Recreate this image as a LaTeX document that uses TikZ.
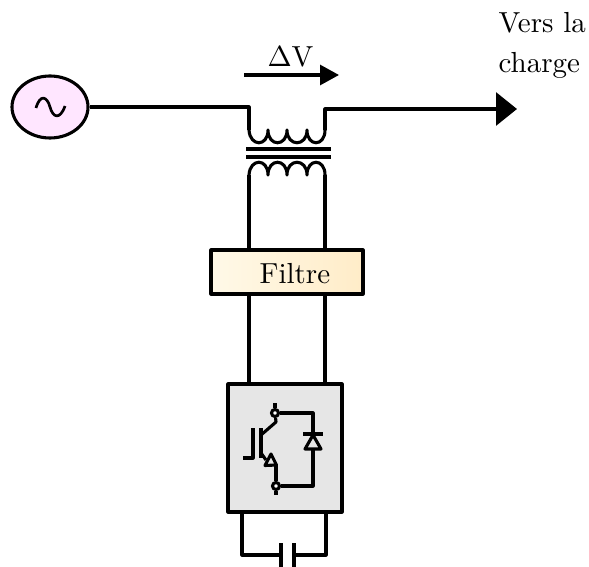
\documentclass[tikz,border=0pt]{standalone}
\usetikzlibrary{arrows.meta,shapes.geometric}
\tikzset{
  x=1pt,y=-1pt,
  wire/.style={line width=3.1pt,line join=round},
  slimwire/.style={line width=3.1pt,line join=round},
  curlwire/.style={line width=2.7pt,line join=round},
  lbl/.style={inner sep=0pt,anchor=base west,scale=2.9},
  bigarrow/.style={wire,-{Triangle[length=21pt,width=33pt]}},
  midarrow/.style={wire,-{Triangle[length=19pt,width=20pt]}},
  pin/.style={circle,draw,line width=3.1pt,fill=white,minimum size=7pt,inner sep=0pt},
}
\definecolor{srcpink}{RGB}{255,230,255}
\definecolor{filtL}{RGB}{255,249,232}
\definecolor{filtR}{RGB}{255,236,200}
\definecolor{convgrey}{RGB}{230,230,230}
\begin{document}
\begin{tikzpicture}
\useasboundingbox (0,0) rectangle (589,567);
% source
\node[ellipse,draw,line width=3.1pt,fill=srcpink,minimum width=76pt,minimum height=62pt,inner sep=0pt] (source) at (50,107) {};
\draw[curlwire] (36,108) .. controls (40,94) and (47,96) .. (50,107) .. controls (53,118) and (60,120) .. (65,106);
% filter & converter
\node[draw,wire,left color=filtL,right color=filtR,minimum width=152pt,minimum height=44pt,inner sep=0pt] (filter) at (287,272) {};
\node[lbl] (filtertext) at (259,283) {Filtre};
\node[draw,wire,fill=convgrey,minimum width=114pt,minimum height=128pt,inner sep=0pt] (conv) at (285,448) {};
% coordinates of the wires
\coordinate (pl) at (249,107);
\coordinate (ul) at (249,130);
\coordinate (ur) at (325,130);
\coordinate (pr) at (325,109);
\coordinate (load) at (517,109);
\coordinate (ll) at (249,175);
\coordinate (lr) at (325,175);
\coordinate (fl) at (249,250);
\coordinate (fr) at (325,250);
\coordinate (fbl) at (249,294);
\coordinate (fbr) at (325,294);
\coordinate (cl) at (249,384);
\coordinate (cr) at (325,384);
% primary
\draw[wire] (source.east) -- (pl) -- (ul);
\draw[wire] (ul) .. controls (250,147) and (268,147) .. (268,130)
  .. controls (268,147) and (287,147) .. (287,130)
  .. controls (287,147) and (307,147) .. (307,130)
  .. controls (307,147) and (325,147) .. (ur);
\draw[bigarrow] (ur) -- (pr) -- (load);
% core
\coordinate (c1a) at (246,149); \coordinate (c1b) at (331,149);
\coordinate (c2a) at (246,157); \coordinate (c2b) at (331,157);
\draw[slimwire] (c1a) -- (c1b);
\draw[slimwire] (c2a) -- (c2b);
% secondary
\draw[wire] (ll) .. controls (250,158) and (268,158) .. (268,175)
  .. controls (268,158) and (287,158) .. (287,175)
  .. controls (287,158) and (307,158) .. (307,175)
  .. controls (307,158) and (325,158) .. (lr);
\draw[wire] (ll) -- (fl);
\draw[wire] (lr) -- (fr);
\draw[wire] (fbl) -- (cl);
\draw[wire] (fbr) -- (cr);
% delta V
\coordinate (dva) at (244,75); \coordinate (dvb) at (339,75);
\draw[midarrow] (dva) -- (dvb);
\node[lbl] (dv) at (267,67) {$\Delta$V};
\node[lbl] (vers) at (498,33) {Vers la};
\node[lbl] (charge) at (498,73) {charge};
% IGBT
\coordinate (gl) at (243,458); \coordinate (gb) at (253,458); \coordinate (gt) at (253,428);
\draw[slimwire] (gl) -- (gb) -- (gt);
\coordinate (cht) at (261,428); \coordinate (chb) at (261,458);
\draw[wire] (cht) -- (chb);
\coordinate (stubt) at (275,403); \coordinate (stubb) at (276,495);
\coordinate (colA) at (261,435); \coordinate (colB) at (276,422);
\coordinate (emA) at (261,453); \coordinate (emB) at (266,460);
\coordinate (emT) at (276,465);
\coordinate (dtr) at (313,413); \coordinate (dbr) at (313,486);
\node[pin] (top) at (275,413) {};
\node[pin] (bot) at (276,486) {};
\draw[slimwire] (stubt) -- (top);
\draw[wire] (colA) -- (colB) -- (top);
\draw[slimwire] (top) -- (dtr) -- (dbr) -- (bot);
\draw[slimwire] (bot) -- (stubb);
\draw[wire] (emA) -- (emB);
\draw[slimwire,fill=convgrey] (271,454) -- (265,465.5) -- (276.5,465) -- cycle;
\draw[wire] (emT) -- (bot);
% diode
\coordinate (d1) at (303,434); \coordinate (d2) at (323,434);
\draw[slimwire] (d1) -- (d2);
\draw[slimwire,fill=convgrey] (313,435) -- (305,449) -- (321,449) -- cycle;
% capacitor
\coordinate (ca) at (242,512); \coordinate (cb) at (242,555); \coordinate (cc) at (281,555);
\coordinate (cd) at (326,512); \coordinate (ce) at (326,555); \coordinate (cf) at (294,555);
\draw[slimwire] (ca) -- (cb) -- (cc);
\draw[slimwire] (cd) -- (ce) -- (cf);
\draw[wire] (281,543) -- (281,570);
\draw[wire] (294,543) -- (294,570);
\end{tikzpicture}
\end{document}
